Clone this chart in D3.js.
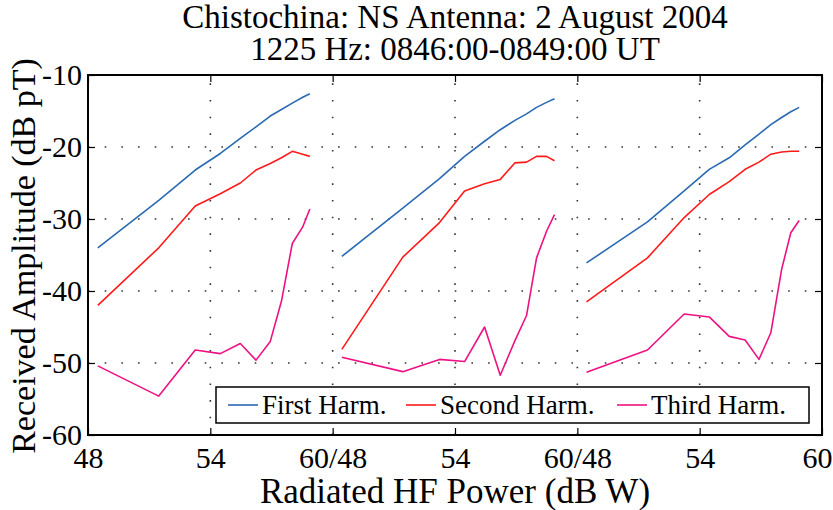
<!DOCTYPE html>
<html><head><meta charset="utf-8">
<script src="https://cdn.jsdelivr.net/npm/d3@7"></script>
<style>body{margin:0;background:#fff}</style>
</head><body>
<svg id="c" width="833" height="510"></svg>
<script>
const titleLines = ["Chistochina: NS Antenna: 2 August 2004", "1225 Hz: 0846:00-0849:00 UT"];
const xLabel = "Radiated HF Power (dB W)";
const yLabel = "Received Amplitude (dB pT)";
const seriesNames = ["First Harm.", "Second Harm.", "Third Harm."];
const seriesColors = ["#2a6ab3", "#ff1a1a", "#ee1182"];
const yTicks = [-60, -50, -40, -30, -20, -10];
const yTickLabels = ["-60", "-50", "-40", "-30", "-20", "-10"];
const xTickValues = [48, 54, 60];
const xTickLabels = ["48", "54", "60/48", "54", "60/48", "54", "60"];

// Panel 1
const power1  = [48.48, 51.47, 53.26, 54.49, 55.47, 56.24, 56.94, 57.49, 58.02, 58.53, 58.88];
const first1  = [-34.0, -27.4, -23.2, -20.9, -18.8, -17.2, -15.7, -14.8, -13.9, -13.1, -12.6];
const second1 = [-42.0, -34.0, -28.2, -26.5, -25.0, -23.2, -22.3, -21.5, -20.6, -21.0, -21.3];
const third1  = [-50.4, -54.6, -48.2, -48.7, -47.3, -49.6, -47.0, -41.4, -33.4, -31.1, -28.6];
// Panel 2
const power2  = [48.45, 51.44, 53.24, 54.47, 55.45, 56.22, 56.94, 57.51, 58.00, 58.49, 58.88];
const first2  = [-35.2, -28.5, -24.4, -21.3, -19.2, -17.6, -16.3, -15.4, -14.5, -13.8, -13.3];
const second2 = [-48.1, -35.3, -30.5, -26.1, -25.1, -24.5, -22.2, -22.1, -21.3, -21.3, -21.9];
const third2  = [-49.2, -51.2, -49.5, -49.8, -45.0, -51.7, -46.9, -43.4, -35.4, -31.7, -29.4];
// Panel 3
const power3  = [48.45, 51.44, 53.24, 54.47, 55.45, 56.23, 56.91, 57.49, 58.02, 58.47, 58.88];
const first3  = [-36.1, -30.4, -26.1, -23.1, -21.5, -19.7, -18.2, -16.9, -15.9, -15.1, -14.5];
const second3 = [-41.5, -35.4, -29.8, -26.6, -24.8, -23.1, -22.1, -21.0, -20.7, -20.6, -20.6];
const third3  = [-51.3, -48.2, -43.2, -43.6, -46.3, -46.8, -49.5, -45.8, -37.0, -31.9, -30.2];

const panels = [
  {power: power1, series: [first1, second1, third1]},
  {power: power2, series: [first2, second2, third2]},
  {power: power3, series: [first3, second3, third3]}
];

const svg = d3.select("#c");
const W = 833;
const L = 88, R = 822, T = 75, B = 435;
const font = "'Liberation Serif', 'Times New Roman', serif";
const pw = (R - L) / 3;
const y = d3.scaleLinear().domain([-60, -10]).range([B, T]);
const xs = panels.map((p, i) => d3.scaleLinear().domain([48, 60]).range([L + i * pw, L + (i + 1) * pw]));

// grid
const grid = svg.append("g").attr("stroke", "#333").attr("stroke-width", 1.6)
  .attr("stroke-dasharray", "1.6,15.07").attr("fill", "none");
[-50, -40, -30, -20].forEach(v => {
  grid.append("line").attr("x1", L).attr("x2", R).attr("y1", y(v)).attr("y2", y(v));
});
xs.forEach((x, i) => {
  const vals = i < 2 ? [54, 60] : [54];
  vals.forEach(v => grid.append("line").attr("x1", x(v)).attr("x2", x(v)).attr("y1", B).attr("y2", T));
});

// lines
svg.append("clipPath").attr("id", "clp").append("rect")
  .attr("x", L).attr("y", T).attr("width", R - L).attr("height", B - T);
panels.forEach((p, i) => {
  const x = xs[i];
  p.series.forEach((s, k) => {
    const line = d3.line().x((d, j) => x(p.power[j])).y(d => y(d));
    svg.append("path").datum(s).attr("d", line).attr("fill", "none")
      .attr("stroke", seriesColors[k]).attr("stroke-width", 1.6)
      .attr("stroke-linejoin", "round").attr("clip-path", "url(#clp)");
  });
});

// axes with inward ticks
const tickLen = 7;
const yAxisL = d3.axisLeft(y).tickValues(yTicks).tickSizeInner(-tickLen).tickSizeOuter(0).tickPadding(6)
  .tickFormat((d) => yTickLabels[yTicks.indexOf(d)]);
svg.append("g").attr("class", "yl").attr("transform", `translate(${L},0)`).call(yAxisL);
const yAxisR = d3.axisRight(y).tickValues(yTicks).tickSizeInner(-tickLen).tickSizeOuter(0).tickFormat("");
svg.append("g").attr("transform", `translate(${R},0)`).call(yAxisR);

xs.forEach((x, i) => {
  const vals = i < 2 ? [48, 54] : [48, 54, 60];
  const ax = d3.axisBottom(x).tickValues(vals).tickSizeInner(-tickLen).tickSizeOuter(0).tickPadding(12)
    .tickFormat((d) => xTickLabels[i * 2 + xTickValues.indexOf(d)]);
  const g = svg.append("g").attr("class", "xb").attr("transform", `translate(0,${B})`).call(ax);
  if (i === 2) {
    // keep the last label inside the picture
    g.selectAll(".tick").filter(d => d === 60).select("text")
      .attr("text-anchor", "end").attr("x", W - R - 1);
  }
  const axT = d3.axisTop(x).tickValues(vals).tickSizeInner(-tickLen).tickSizeOuter(0).tickFormat("");
  svg.append("g").attr("transform", `translate(0,${T})`).call(axT);
});
svg.selectAll(".domain").remove();
svg.selectAll(".tick line").attr("stroke", "#000").attr("stroke-width", 1.2);
svg.selectAll(".tick text").attr("font-family", font).attr("font-size", 30).attr("fill", "#000");

// box
svg.append("rect").attr("x", L).attr("y", T).attr("width", R - L).attr("height", B - T)
  .attr("fill", "none").attr("stroke", "#000").attr("stroke-width", 2);

// titles
titleLines.forEach((t, i) => {
  svg.append("text").attr("x", (L + R) / 2).attr("y", 28 + i * 32).attr("text-anchor", "middle")
    .attr("font-family", font).attr("font-size", 33).text(t);
});
svg.append("text").attr("x", (L + R) / 2).attr("y", 503).attr("text-anchor", "middle")
  .attr("font-family", font).attr("font-size", 35).text(xLabel);
svg.append("text").attr("transform", `translate(35,${(T + B) / 2 + 1}) rotate(-90)`).attr("text-anchor", "middle")
  .attr("font-family", font).attr("font-size", 34).text(yLabel);

// legend
const lg = svg.append("g");
lg.append("rect").attr("x", 216).attr("y", 387).attr("width", 593).attr("height", 36)
  .attr("fill", "#fff").attr("stroke", "#000").attr("stroke-width", 1.5);
const legX = [228, 406, 617];
seriesNames.forEach((n, k) => {
  lg.append("line").attr("x1", legX[k]).attr("x2", legX[k] + 30).attr("y1", 405).attr("y2", 405)
    .attr("stroke", seriesColors[k]).attr("stroke-width", 1.6);
  lg.append("text").attr("x", legX[k] + 34).attr("y", 414).attr("font-family", font)
    .attr("font-size", 27).text(n);
});
</script>
</body></html>
